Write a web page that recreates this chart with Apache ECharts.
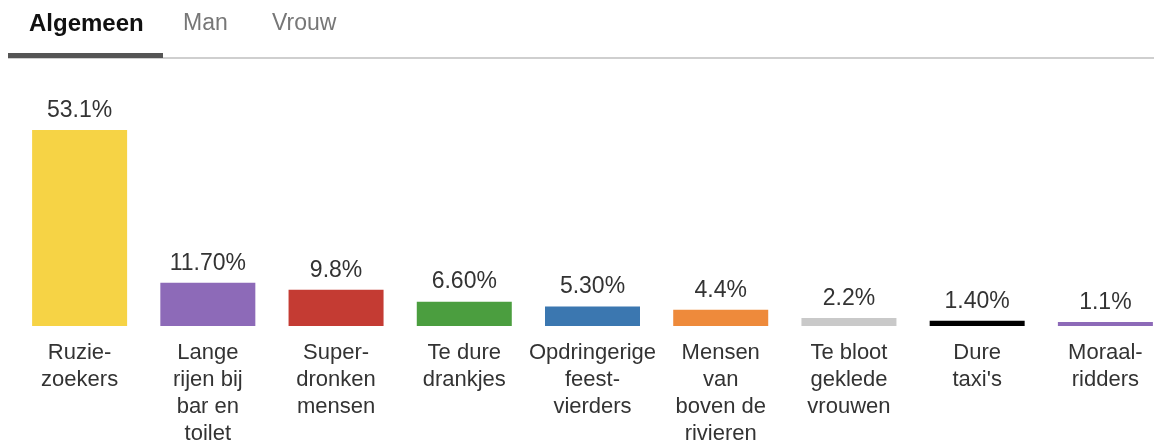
<!DOCTYPE html>
<html>
<head>
    <meta charset="utf-8">
    <title>Ergernissen</title>
    <script src="https://cdn.jsdelivr.net/npm/echarts@6/dist/echarts.min.js"></script>
    <style>
        html, body { margin: 0; padding: 0; background: #fff; }
    </style>
</head>
<body>
    <div id="chart" style="width: 1154px;height:444px;"></div>
    <script type="text/javascript">
        // data
        var categories = ['Ruzie-\nzoekers', 'Lange\nrijen bij\nbar en\ntoilet', 'Super-\ndronken\nmensen',
            'Te dure\ndrankjes', 'Opdringerige\nfeest-\nvierders', 'Mensen\nvan\nboven de\nrivieren',
            'Te bloot\ngeklede\nvrouwen', 'Dure\ntaxi\'s', 'Moraal-\nridders'];
        var values = [53.1, 11.7, 9.8, 6.6, 5.3, 4.4, 2.2, 1.4, 1.1];
        var valueLabels = ['53.1%', '11.70%', '9.8%', '6.60%', '5.30%', '4.4%', '2.2%', '1.40%', '1.1%'];
        var barColors = ['#f6d345', '#8d6ab8', '#c43b33', '#4b9e3f', '#3b77b0', '#ee8a3b', '#c9c9c9', '#000000', '#8d6ab8'];
        var tabs = ['Algemeen', 'Man', 'Vrouw'];

        var font = '"Liberation Sans", Helvetica, Arial, sans-serif';
        var chart = echarts.init(document.getElementById('chart'));

        var barData = values.map(function (v, i) {
            return { value: v, itemStyle: { color: barColors[i] } };
        });

        chart.setOption({
            animation: false,
            textStyle: { fontFamily: font },
            // grid runs a little past the right edge, like the original
            grid: { left: 15.5, width: 1154, top: 104.5, bottom: 118, containLabel: false, outerBoundsMode: 'none' },
            xAxis: {
                type: 'category',
                data: categories,
                axisLine: { show: false },
                axisTick: { show: false },
                axisLabel: {
                    interval: 0,
                    margin: 13,
                    fontSize: 22,
                    lineHeight: 27,
                    color: '#333',
                    fontFamily: font,
                    verticalAlign: 'top'
                }
            },
            yAxis: {
                type: 'value',
                min: 0,
                max: 60,
                show: false,
                splitLine: { show: false }
            },
            series: [{
                type: 'bar',
                data: barData,
                barWidth: 95,
                label: {
                    show: true,
                    position: 'top',
                    distance: 8,
                    fontSize: 23,
                    color: '#333',
                    fontFamily: font,
                    formatter: function (p) { return valueLabels[p.dataIndex]; }
                }
            }],
            graphic: [
                { type: 'text', left: 29, top: 12, style: { text: tabs[0], font: 'bold 24px ' + font, fill: '#111' } },
                { type: 'text', left: 183, top: 12, style: { text: tabs[1], font: '23px ' + font, fill: '#777' } },
                { type: 'text', left: 272, top: 12, style: { text: tabs[2], font: '23px ' + font, fill: '#777' } },
                { type: 'rect', shape: { x: 8, y: 57, width: 1146, height: 2 }, style: { fill: '#cfcfcf' } },
                { type: 'rect', shape: { x: 8, y: 53, width: 155, height: 5 }, style: { fill: '#555' } }
            ]
        });
    </script>
</body>
</html>
